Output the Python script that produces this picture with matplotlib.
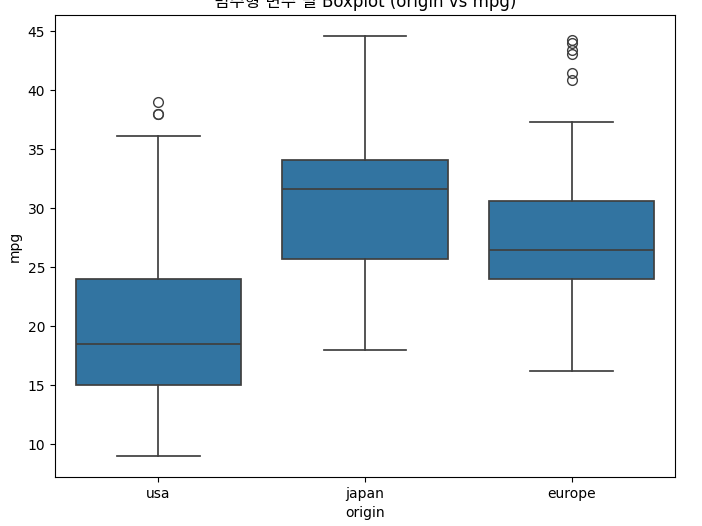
import matplotlib.pyplot as plt

# box statistics (mpg by origin)
origins = ["usa", "japan", "europe"]
q1 = [15.0, 25.7, 24.0]
medians = [18.5, 31.6, 26.5]
q3 = [24.0, 34.05, 30.65]
whisk_lo = [9.0, 18.0, 16.2]
whisk_hi = [36.1, 44.6, 37.3]
fliers = [
    [39.0, 38.0, 38.0],
    [],
    [44.3, 44.0, 43.4, 43.1, 41.5, 40.9],
]

plt.rcParams['font.family'] = ['DejaVu Sans', 'Noto Sans CJK KR']

stats = []
for i in range(len(origins)):
    stats.append({
        "label": origins[i],
        "q1": q1[i], "med": medians[i], "q3": q3[i],
        "whislo": whisk_lo[i], "whishi": whisk_hi[i],
        "fliers": fliers[i],
    })

fig = plt.figure(figsize=(7.02, 5.26), dpi=100)
ax = fig.add_axes([55 / 702, (526 - 477) / 526, 620 / 702, 462 / 526])

line_c = "#3f3f3f"
ax.bxp(stats, positions=range(len(origins)), widths=0.8, patch_artist=True,
       boxprops=dict(facecolor="#3274a1", edgecolor=line_c, linewidth=1.25),
       medianprops=dict(color=line_c, linewidth=1.25),
       whiskerprops=dict(color=line_c, linewidth=1.25),
       capprops=dict(color=line_c, linewidth=1.25),
       flierprops=dict(marker="o", markerfacecolor="none", markeredgecolor=line_c,
                       markersize=7, linewidth=0))

ax.set_xlim(-0.5, len(origins) - 0.5)
ax.set_xlabel("origin")
ax.set_ylabel("mpg")
ax.set_title("범주형 변수 별 Boxplot (origin vs mpg)")

fig.savefig("out.png", dpi=100)
